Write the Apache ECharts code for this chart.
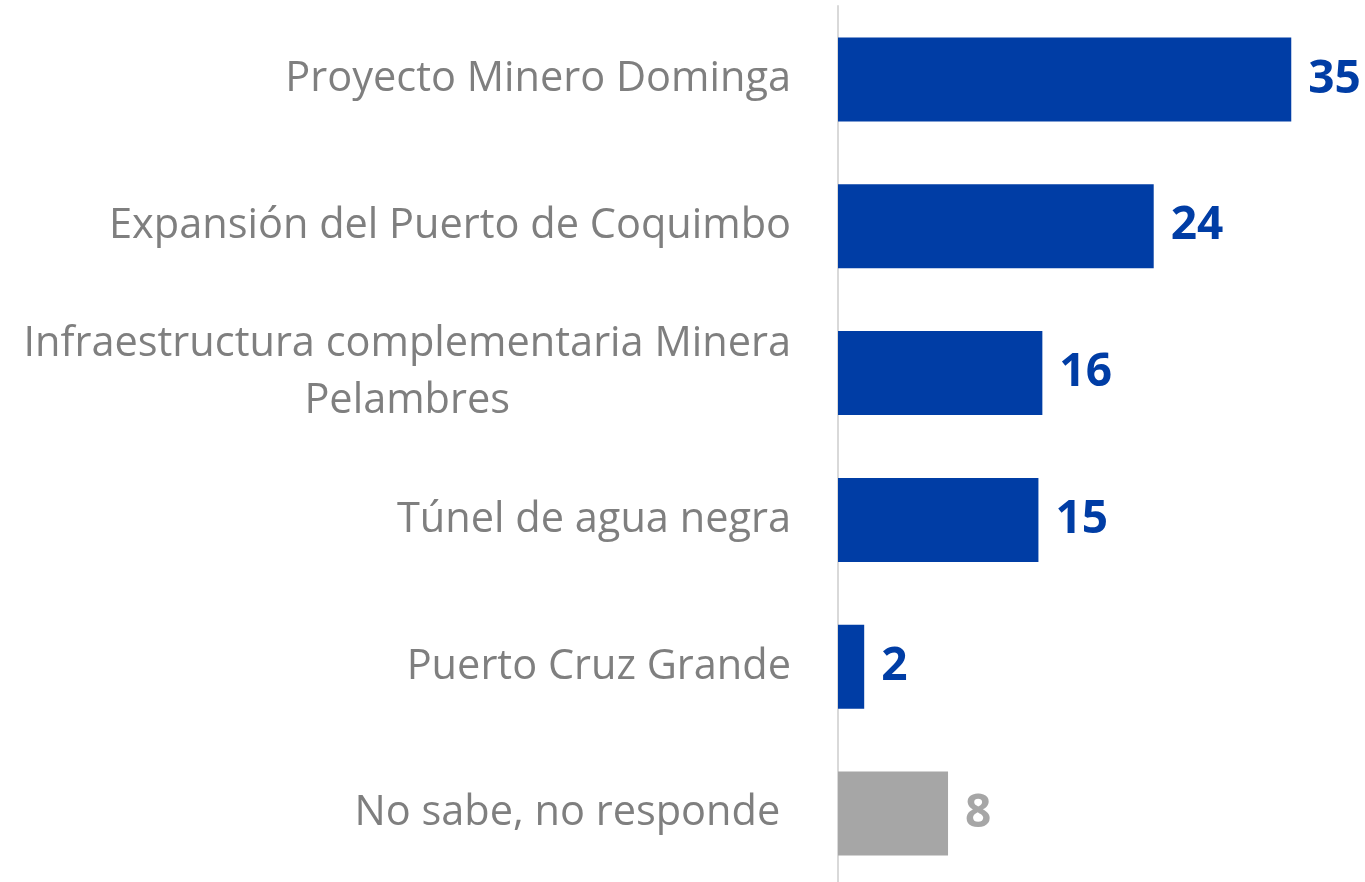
<!DOCTYPE html>
<html>
<head>
<meta charset="utf-8">
<title>Proyectos</title>
<script src="https://cdn.jsdelivr.net/npm/echarts@6/dist/echarts.min.js"></script>
<style>
  html, body { margin: 0; padding: 0; background: #ffffff; overflow: hidden; }
  #chart { width: 1365px; height: 900px; }
</style>
</head>
<body>
<div id="chart"></div>
<script>
const categories = [
  "Proyecto Minero Dominga",
  "Expansión del Puerto de Coquimbo",
  "Infraestructura complementaria Minera\nPelambres",
  "Túnel de agua negra",
  "Puerto Cruz Grande",
  "No sabe, no responde ",
];
// bar lengths; labels show them rounded
const values = [34.6, 24.1, 15.6, 15.3, 2.0, 8.4];
const noAnswer = "No sabe, no responde ";

const BLUE = "#003da5";
const GREY = "#a6a6a6";
const LABEL_FONT = "Open Sans";
const LABEL_SIZE = 41.5;

// width of the widest line, so multi-line labels can be centred as a block
function lineWidth(text) {
  const ctx = document.createElement("canvas").getContext("2d");
  ctx.font = LABEL_SIZE + "px \"" + LABEL_FONT + "\"";
  return Math.max(...text.split("\n").map((l) => ctx.measureText(l).width));
}

const chart = echarts.init(document.getElementById("chart"));

chart.setOption({
  animation: false,
  grid: { left: 838, right: 3, top: 6, height: 881, containLabel: false },
  xAxis: {
    type: "value",
    min: 0,
    max: 40,
    show: false,
  },
  yAxis: {
    type: "category",
    inverse: true,
    data: categories,
    axisLine: { show: true, lineStyle: { color: "#d9d9d9", width: 2 } },
    axisTick: { show: false },
    axisLabel: {
      margin: 47,
      color: "#7f7f7f",
      fontSize: LABEL_SIZE,
      fontFamily: LABEL_FONT,
      lineHeight: 57,
      formatter: (v) => {
        if (v.indexOf("\n") < 0) return v;
        return v.split("\n").map((l) => "{c|" + l + "}").join("\n");
      },
      rich: {
        c: {
          width: lineWidth(categories[2]),
          align: "center",
          color: "#7f7f7f",
          fontSize: LABEL_SIZE,
          fontFamily: LABEL_FONT,
          lineHeight: 57,
        },
      },
    },
  },
  series: [
    {
      type: "bar",
      barWidth: 84,
      data: values.map((v, i) => ({
        value: v,
        itemStyle: { color: categories[i] === noAnswer ? GREY : BLUE },
        label: { color: categories[i] === noAnswer ? GREY : BLUE },
      })),
      label: {
        show: true,
        position: "right",
        distance: 17,
        fontFamily: LABEL_FONT,
        fontWeight: "bold",
        fontSize: 46,
        formatter: (p) => String(Math.round(p.value)),
      },
    },
  ],
});
</script>
</body>
</html>
